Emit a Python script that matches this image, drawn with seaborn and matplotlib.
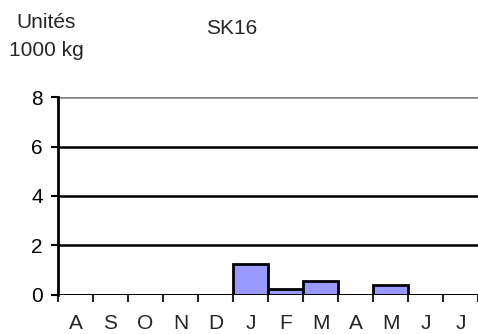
import matplotlib
matplotlib.use("Agg")
import matplotlib.pyplot as plt
import seaborn as sns
import pandas as pd
import numpy as np

months = ["Aug", "Sep", "Oct", "Nov", "Dec", "Jan", "Feb", "Mar", "Apr", "May", "Jun", "Jul"]
month_labels = ["A", "S", "O", "N", "D", "J", "F", "M", "A", "M", "J", "J"]
values = [0, 0, 0, 0, 0, 1.23, 0.22, 0.55, 0, 0.39, 0, 0]
yticks = [0, 2, 4, 6, 8]

sns.set_style("white")
plt.rcParams['font.family'] = ['Liberation Sans', 'DejaVu Sans']

fig = plt.figure(figsize=(4.78, 3.34), dpi=100)
ax = fig.add_axes([58 / 478, 1 - 294.5 / 334, 1 - 58 / 478, (294.5 - 97.3) / 334])

df = pd.DataFrame({"month": months, "value": values})
sns.barplot(data=df, x="month", y="value", order=months, color="#9999FF",
            edgecolor="black", linewidth=2, width=1, saturation=1, ax=ax, zorder=3)

ax.set_ylim(0, 8)
ax.set_xlim(-0.5, 11.2)

for y in [2, 4, 6]:
    ax.axhline(y, color="black", lw=1.8, zorder=1)
ax.axhline(8, color="#808080", lw=1.8, zorder=1)
ax.axhline(0, color="black", lw=2, zorder=4)

for s in ["top", "right", "bottom"]:
    ax.spines[s].set_visible(False)
ax.spines["left"].set_color("black")
ax.spines["left"].set_linewidth(2)
ax.spines["left"].set_zorder(5)

ax.set_yticks(yticks)
ax.set_yticklabels([str(v) for v in yticks], fontsize=15)
ax.tick_params(axis="y", length=5, width=1.5, direction="out", pad=6, left=True, colors="black")

ax.set_xticks(np.arange(len(months)))
ax.set_xticklabels(month_labels, fontsize=15)
ax.set_xticks(np.arange(len(months) + 1) - 0.5, minor=True)
ax.tick_params(axis="x", which="major", length=0, pad=14)
ax.tick_params(axis="x", which="minor", length=5, width=1.5, direction="out", bottom=True)
ax.set_xlabel("")
ax.set_ylabel("")

fig.text(46 / 478, 1 - 22 / 334, "Unités", ha="center", va="center", fontsize=15)
fig.text(46 / 478, 1 - 51 / 334, "1000 kg", ha="center", va="center", fontsize=15)
fig.text(232 / 478, 1 - 28 / 334, "SK16", ha="center", va="center", fontsize=15)

fig.savefig("out.png", dpi=100)
